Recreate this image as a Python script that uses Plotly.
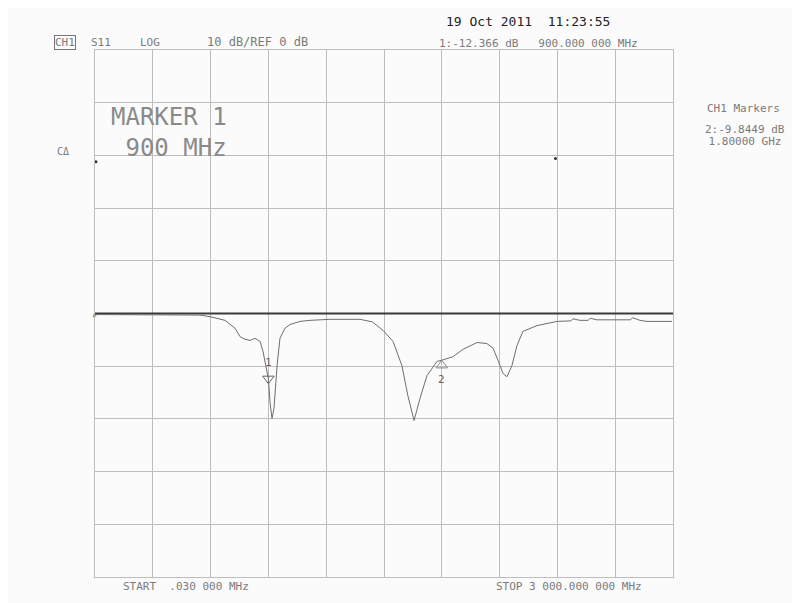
import plotly.graph_objects as go

# ---- data ----
freq_mhz = [0.03, 285, 441, 545, 597, 675, 727, 753, 779, 805, 830, 857, 872, 888, 900,
            909, 919, 929, 945, 960, 986, 1012, 1064, 1116, 1220, 1375, 1440, 1495, 1547,
            1593, 1624, 1656, 1687, 1723, 1775, 1806, 1858, 1910, 1983, 2034, 2066, 2092,
            2118, 2138, 2164, 2190, 2221, 2294, 2398, 2470, 2480, 2517, 2560, 2570, 2605,
            2725, 2780, 2790, 2829, 2865, 2995]
s11_db = [-0.2, -0.2, -0.2, -0.3, -0.6, -1.3, -2.8, -4.4, -4.9, -5.1, -4.7, -5.3, -7.2, -9.9, -12.4,
          -17.1, -19.9, -18.0, -9.9, -4.7, -2.8, -2.1, -1.5, -1.3, -1.1, -1.1, -1.6, -3.2, -5.3,
          -9.9, -15.6, -20.3, -16.1, -11.8, -9.1, -8.8, -8.2, -6.8, -5.5, -5.7, -6.6, -8.9,
          -11.4, -12.0, -9.9, -6.1, -3.4, -2.3, -1.5, -1.4, -1.0, -1.3, -1.3, -0.9, -1.2,
          -1.2, -1.2, -0.8, -1.3, -1.5, -1.5]

ref_db = 0
marker_freq = [900, 1800]
marker_db = [-12.366, -9.8449]
marker_labels = ["1", "2"]
dot_freq = [5, 2390]
dot_db = [28.8, 29.4]

x_start, x_stop = 0.03, 3000
y_top, y_bottom = 50, -50

mono = "DejaVu Sans Mono"
txt = "#7a7a7a"

fig = go.Figure()

# reference line at 0 dB
fig.add_trace(go.Scatter(x=[x_start, x_stop], y=[ref_db, ref_db], mode="lines",
                         line=dict(color="#3a3a3a", width=2), hoverinfo="skip"))
# measured trace
fig.add_trace(go.Scatter(x=freq_mhz, y=s11_db, mode="lines",
                         line=dict(color="#6e6e6e", width=1)))
# stray dots
fig.add_trace(go.Scatter(x=dot_freq, y=dot_db, mode="markers",
                         marker=dict(color="#333", size=3)))
# markers
fig.add_trace(go.Scatter(x=[marker_freq[0]], y=[marker_db[0]], mode="markers",
                         marker=dict(symbol="triangle-down-open", size=10,
                                     color="#666", line=dict(width=1, color="#666"))))
fig.add_trace(go.Scatter(x=[marker_freq[1]], y=[marker_db[1]], mode="markers",
                         marker=dict(symbol="triangle-up-open", size=10,
                                     color="#888", line=dict(width=1, color="#888"))))

ann = []
def a(text, x, y, size=11, color=txt, xanchor="left", xref="paper", yref="paper", **kw):
    ann.append(dict(text=text, x=x, y=y, xref=xref, yref=yref, showarrow=False,
                    xanchor=xanchor, yanchor="middle", align="left",
                    font=dict(family=mono, size=size, color=color), **kw))

# screen-pixel helpers (plot area spans x 95..673, y 50..577 on screen)
W, L, B, H = 578, 95, 577, 527
px = lambda v: (v - L) / W
py = lambda v: (B - v) / H

a("CH1", px(54), py(42), size=11, bordercolor="#777", borderwidth=1, borderpad=0)
a("S11", px(89), py(42))
a("LOG", px(138), py(42))
a("10 dB/REF 0 dB", px(205), py(42), size=12)
a("19 Oct 2011  11:23:55", px(444), py(22), size=13, color="#222")
a("1:-12.366 dB   900.000 000 MHz", px(437), py(43), size=11)
a("CH1 Markers", px(705), py(108), size=11)
a("2:-9.8449 dB", px(703), py(129), size=11)
a(" 1.80000 GHz", px(700), py(141), size=11)
a("C\u0394", px(55), py(151), size=10)
a("MARKER 1<br>\u00a0900 MHz", px(109), py(133), size=24, color="#8a8a8a")
a("START  .030 000 MHz", px(121), py(586), size=11)
a("STOP 3 000.000 000 MHz", px(494), py(586), size=11)
a("\u25b9", px(90), py(315), size=9, color="#666")

for f, d, lab, shift in zip(marker_freq, marker_db, marker_labels, [16, -14]):
    ann.append(dict(text=lab, x=f, y=d, xref="x", yref="y", showarrow=False,
                    yshift=shift, font=dict(family=mono, size=11, color="#666")))

# page body has an 8px default margin, so offset plot margins by 8px
fig.update_layout(
    width=800, height=603,
    margin=dict(l=87, r=135, t=42, b=34),
    paper_bgcolor="#fbfbfc", plot_bgcolor="#fbfbfc",
    showlegend=False,
    annotations=ann,
    xaxis=dict(range=[x_start, x_stop], tick0=x_start, dtick=(x_stop - x_start) / 10,
               showgrid=True, gridcolor="#bdbdbd", gridwidth=1, showticklabels=False,
               ticks="", zeroline=False, showline=True, linecolor="#bdbdbd", mirror=True),
    yaxis=dict(range=[y_bottom, y_top], tick0=y_bottom, dtick=10,
               showgrid=True, gridcolor="#bdbdbd", gridwidth=1, showticklabels=False,
               ticks="", zeroline=False, showline=True, linecolor="#bdbdbd", mirror=True),
)

fig.write_html("out.html")
